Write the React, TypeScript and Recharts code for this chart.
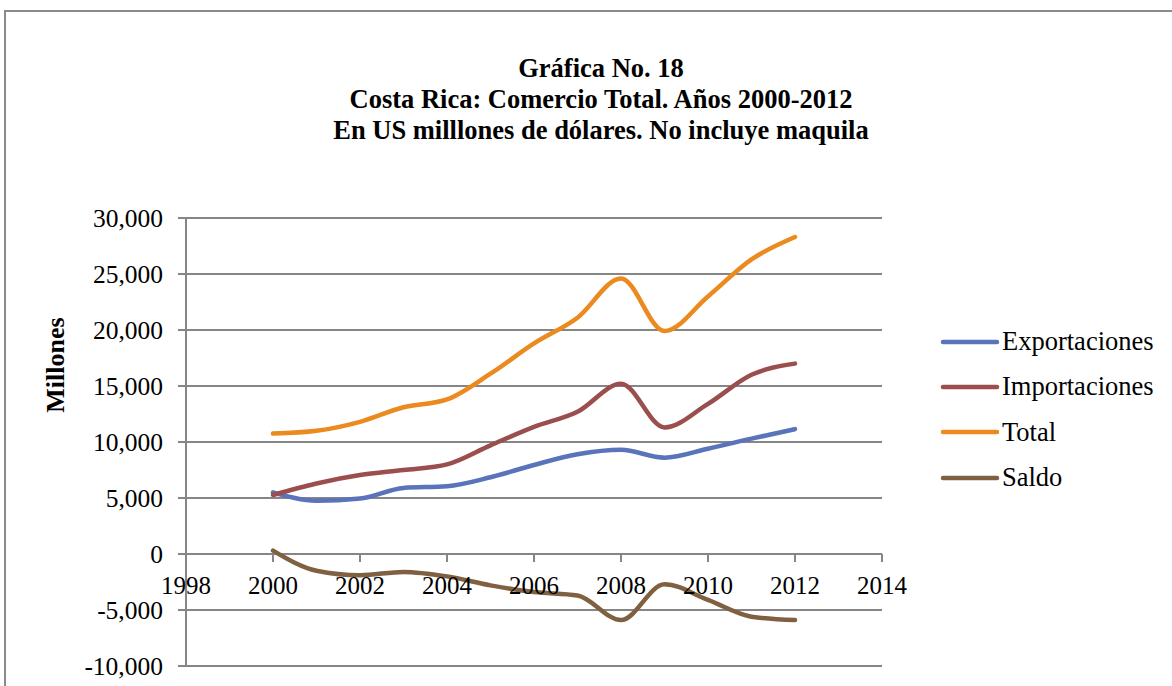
import React from "react";
import { LineChart, Line, XAxis, YAxis, CartesianGrid, Legend } from "recharts";

const years = [2000, 2001, 2002, 2003, 2004, 2005, 2006, 2007, 2008, 2009, 2010, 2011, 2012];
const exportaciones = [5500, 4750, 4950, 5900, 6050, 6850, 7950, 8900, 9300, 8600, 9400, 10300, 11150];
const importaciones = [5270, 6300, 7050, 7500, 8000, 9700, 11350, 12700, 15200, 11300, 13400, 16000, 17000];
const total = [10750, 11000, 11800, 13100, 13800, 16100, 18800, 21100, 24600, 19900, 23000, 26300, 28300];
const saldo = [300, -1500, -1900, -1600, -2000, -2800, -3400, -3700, -5900, -2700, -4100, -5600, -5900];

const xTicks = [1998, 2000, 2002, 2004, 2006, 2008, 2010, 2012, 2014];
const yTicks = [-10000, -5000, 0, 5000, 10000, 15000, 20000, 25000, 30000];

const series = [
  { key: "exportaciones", name: "Exportaciones", color: "#5a73ba" },
  { key: "importaciones", name: "Importaciones", color: "#9a4e4d" },
  { key: "total", name: "Total", color: "#ea8a1f" },
  { key: "saldo", name: "Saldo", color: "#7f6041" },
];

const data = years.map((year, i) => ({
  year,
  exportaciones: exportaciones[i],
  importaciones: importaciones[i],
  total: total[i],
  saldo: saldo[i],
}));

const W = 1172;
const H = 686;
const TOP = 218;
const BOTTOM = 20;
const X_AXIS_H = 1;
const Y_AXIS_W = 80;
const LEFT = 186;
const RIGHT = 290;
const Y_MIN = yTicks[0];
const Y_MAX = yTicks[yTicks.length - 1];
const PLOT_H = H - TOP - BOTTOM;
const zeroY = TOP + (PLOT_H * Y_MAX) / (Y_MAX - Y_MIN);

const GRID = "#868686";
const FONT = "'Liberation Serif', 'Times New Roman', serif";

const fmt = (v: number) => v.toLocaleString("en-US");

function XTick(props: any) {
  const { x, payload } = props;
  return (
    <g>
      <line x1={x} x2={x} y1={zeroY} y2={zeroY + 8} stroke={GRID} strokeWidth={2} />
      <text x={x} y={zeroY + 40} textAnchor="middle" fontSize={25} fontFamily={FONT} fill="#000">
        {payload.value}
      </text>
    </g>
  );
}

function LegendBox(props: any) {
  const items = [...(props.payload || [])].sort(
    (a: any, b: any) =>
      series.findIndex((s) => s.name === a.value) - series.findIndex((s) => s.name === b.value)
  );
  return (
    <div style={{ fontFamily: FONT, fontSize: 26.5, color: "#000" }}>
      {items.map((it: any) => (
        <div key={it.value} style={{ display: "flex", alignItems: "center", height: 45.3 }}>
          <svg width={60} height={8} style={{ flex: "none" }}>
            <line x1={3} x2={57} y1={4} y2={4} stroke={it.color} strokeWidth={4.5} strokeLinecap="round" />
          </svg>
          <span style={{ marginLeft: 2, whiteSpace: "nowrap" }}>{it.value}</span>
        </div>
      ))}
    </div>
  );
}

export default function App() {
  return (
    <div style={{ position: "fixed", left: 0, top: 0, width: W, height: H, background: "#fff", overflow: "hidden" }}>
      <div
        style={{
          position: "absolute",
          left: 4,
          top: 10,
          width: 1300,
          height: 800,
          border: "2px solid #8a8a8a",
        }}
      />
      <div
        style={{
          position: "absolute",
          left: 0,
          width: 1202,
          top: 53,
          textAlign: "center",
          fontFamily: FONT,
          fontWeight: "bold",
          fontSize: 26.5,
          lineHeight: "31px",
        }}
      >
        <div>Gráfica No. 18</div>
        <div>Costa Rica: Comercio Total. Años 2000-2012</div>
        <div>En US milllones de dólares. No incluye maquila</div>
      </div>
      <div
        style={{
          position: "absolute",
          left: 56,
          top: 365,
          transform: "translate(-50%, -50%) rotate(-90deg)",
          fontFamily: FONT,
          fontWeight: "bold",
          fontSize: 26,
          whiteSpace: "nowrap",
        }}
      >
        Millones
      </div>
      <div style={{ position: "absolute", left: 0, top: 0 }}>
        <LineChart
          width={W}
          height={H}
          data={data}
          margin={{ top: TOP, right: RIGHT, bottom: BOTTOM - X_AXIS_H, left: LEFT - Y_AXIS_W }}
        >
          <CartesianGrid vertical={false} stroke={GRID} strokeWidth={2} />
          <XAxis
            dataKey="year"
            type="number"
            domain={[xTicks[0], xTicks[xTicks.length - 1]]}
            ticks={xTicks}
            interval={0}
            axisLine={false}
            tickLine={false}
            height={X_AXIS_H}
            tick={<XTick />}
          />
          <YAxis
            type="number"
            domain={[Y_MIN, Y_MAX]}
            ticks={yTicks}
            interval={0}
            width={Y_AXIS_W}
            tickFormatter={fmt}
            axisLine={{ stroke: GRID, strokeWidth: 2 }}
            tickLine={{ stroke: GRID, strokeWidth: 2 }}
            tickSize={8}
            tickMargin={15}
            tick={{ fontSize: 25.5, fontFamily: FONT, fill: "#000" }}
          />
          <Legend
            layout="horizontal"
            verticalAlign="middle"
            align="center"
            itemSorter={null as any}
            wrapperStyle={{ left: 940, top: 319, width: 232 }}
            content={<LegendBox />}
          />
          {series.map((s) => (
            <Line
              key={s.key}
              type="monotone"
              dataKey={s.key}
              name={s.name}
              stroke={s.color}
              strokeWidth={4.5}
              strokeLinecap="round"
              strokeLinejoin="round"
              dot={false}
              activeDot={false}
              isAnimationActive={false}
            />
          ))}
        </LineChart>
      </div>
    </div>
  );
}
